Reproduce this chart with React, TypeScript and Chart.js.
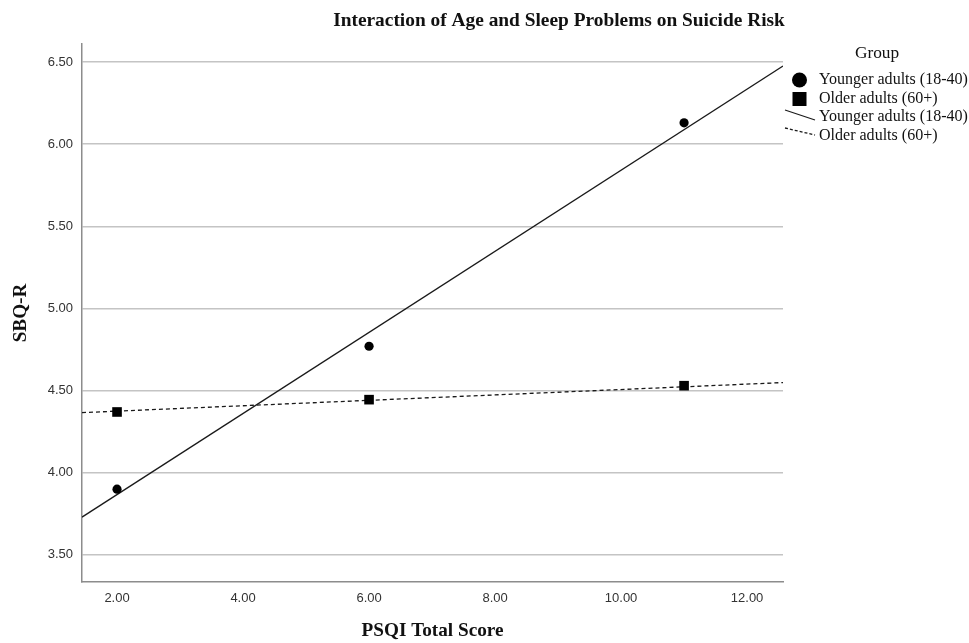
import React, { useEffect, useRef } from "react";
import { Chart, registerables } from "chart.js";

Chart.register(...registerables);

// ---- data ----
const chartTitle = "Interaction of Age and Sleep Problems on Suicide Risk";
const xAxisTitle = "PSQI Total Score";
const yAxisTitle = "SBQ-R";
const legendTitle = "Group";
const groupLabels = ["Younger adults (18-40)", "Older adults (60+)"];

const psqiPoints = [2, 6, 11];
const sbqYounger = [3.9, 4.77, 6.13];
const sbqOlder = [4.37, 4.445, 4.53];

const fitX = [1.444, 12.57];
const fitYounger = [3.73, 6.476];
const fitOlder = [4.366, 4.549];

const xTicks = [2, 4, 6, 8, 10, 12];
const yTicks = [3.5, 4.0, 4.5, 5.0, 5.5, 6.0, 6.5];
const xRange = [1.444, 12.57];
const yRange = [3.335, 6.61];

const INK = "#1a1a1a";
const SERIF = "'Liberation Serif', 'Times New Roman', serif";

function fitSize(text: string, weight: string, target: number): number {
  const c = document.createElement("canvas");
  const ctx = c.getContext("2d")!;
  ctx.font = `${weight} 20px ${SERIF}`;
  const w = ctx.measureText(text).width;
  return w > 0 ? (20 * target) / w : 16;
}

export default function App() {
  const ref = useRef<HTMLCanvasElement | null>(null);

  useEffect(() => {
    if (!ref.current) return;
    const titleSize = fitSize(chartTitle, "bold", 452);
    const axisTitleSize = fitSize(xAxisTitle, "bold", 142);
    const legendSize = fitSize(groupLabels[0], "normal", 149);

    const titlePlugin = {
      id: "topTitle",
      afterDraw(chart: any) {
        const ctx = chart.ctx;
        ctx.save();
        ctx.fillStyle = "#111";
        ctx.font = `bold ${titleSize}px ${SERIF}`;
        ctx.textAlign = "center";
        ctx.textBaseline = "middle";
        ctx.fillText(chartTitle, 559, 21);
        ctx.restore();
      },
    };

    const legendPlugin = {
      id: "groupLegend",
      afterDraw(chart: any) {
        const ctx = chart.ctx;
        const ds = chart.data.datasets;
        ctx.save();
        ctx.fillStyle = "#111";
        ctx.font = `${legendSize * 1.08}px ${SERIF}`;
        ctx.textAlign = "center";
        ctx.textBaseline = "middle";
        ctx.fillText(legendTitle, 877, 53);

        ctx.textAlign = "left";
        ctx.font = `${legendSize}px ${SERIF}`;
        const textX = 819;
        const rows = [80, 99, 117, 136];
        ctx.fillStyle = "#000";
        ctx.beginPath();
        ctx.arc(799.5, rows[0], 7.5, 0, Math.PI * 2);
        ctx.fill();
        ctx.fillStyle = "#111";
        ctx.fillText(ds[0].label, textX, rows[0]);
        ctx.fillStyle = "#000";
        ctx.fillRect(792.5, rows[1] - 7, 14, 14);
        ctx.fillStyle = "#111";
        ctx.fillText(ds[1].label, textX, rows[1]);
        ctx.strokeStyle = INK;
        ctx.lineWidth = 1.3;
        ctx.beginPath();
        ctx.moveTo(785, rows[2] - 7);
        ctx.lineTo(815, rows[2] + 3);
        ctx.stroke();
        ctx.fillText(ds[2].label, textX, rows[2]);
        ctx.setLineDash([3, 2]);
        ctx.beginPath();
        ctx.moveTo(785, rows[3] - 8);
        ctx.lineTo(815, rows[3] - 1);
        ctx.stroke();
        ctx.setLineDash([]);
        ctx.fillText(ds[3].label, textX, rows[3]);
        ctx.restore();
      },
    };

    const chart = new Chart(ref.current, {
      type: "scatter",
      data: {
        datasets: [
          {
            label: groupLabels[0],
            data: psqiPoints.map((x, i) => ({ x, y: sbqYounger[i] })),
            pointStyle: "circle",
            pointRadius: 4.6,
            pointHoverRadius: 4.6,
            backgroundColor: "#000",
            borderColor: "#000",
            borderWidth: 0,
            showLine: false,
          },
          {
            label: groupLabels[1],
            data: psqiPoints.map((x, i) => ({ x, y: sbqOlder[i] })),
            pointStyle: "rect",
            pointRadius: 6.8,
            pointHoverRadius: 6.8,
            backgroundColor: "#000",
            borderColor: "#000",
            borderWidth: 0,
            showLine: false,
          },
          {
            label: groupLabels[0],
            data: fitX.map((x, i) => ({ x, y: fitYounger[i] })),
            showLine: true,
            pointRadius: 0,
            borderColor: INK,
            borderWidth: 1.3,
            fill: false,
          },
          {
            label: groupLabels[1],
            data: fitX.map((x, i) => ({ x, y: fitOlder[i] })),
            showLine: true,
            pointRadius: 0,
            borderColor: INK,
            borderWidth: 1.3,
            borderDash: [4, 3],
            fill: false,
          },
        ],
      },
      options: {
        responsive: false,
        animation: false,
        devicePixelRatio: 1,
        layout: { padding: { left: 0, top: 44, right: 969 - 783, bottom: 0 } },
        plugins: {
          legend: { display: false },
          title: { display: false },
          tooltip: { enabled: false },
        },
        scales: {
          x: {
            type: "linear",
            min: xRange[0],
            max: xRange[1],
            afterBuildTicks: (s: any) => {
              s.ticks = xTicks.map((v) => ({ value: v }));
            },
            afterFit: (s: any) => {
              s.height = 643 - 582;
            },
            grid: { display: false, drawTicks: false },
            border: { display: true, color: "#8c8c8c", width: 1.5 },
            ticks: {
              padding: 9,
              color: "#333",
              font: { family: "'Liberation Sans', Arial, sans-serif", size: 13 },
              callback: (v: any) => Number(v).toFixed(2),
            },
            title: {
              display: true,
              text: xAxisTitle,
              color: "#111",
              font: { family: SERIF, size: axisTitleSize, weight: "bold" },
              padding: { top: 0, bottom: 0 },
            },
          },
          y: {
            type: "linear",
            min: yRange[0],
            max: yRange[1],
            afterBuildTicks: (s: any) => {
              s.ticks = yTicks.map((v) => ({ value: v }));
            },
            afterFit: (s: any) => {
              s.width = 82;
            },
            grid: { display: true, drawTicks: false, color: "#c4c4c4", lineWidth: 1.5 },
            border: { display: true, color: "#8c8c8c", width: 1.5 },
            ticks: {
              padding: 9,
              color: "#333",
              font: { family: "'Liberation Sans', Arial, sans-serif", size: 13 },
              callback: (v: any) => Number(v).toFixed(2),
            },
            title: {
              display: true,
              text: yAxisTitle,
              color: "#111",
              font: { family: SERIF, size: axisTitleSize, weight: "bold" },
              padding: { top: 10, bottom: 0 },
            },
          },
        },
      },
      plugins: [titlePlugin, legendPlugin],
    });
    return () => chart.destroy();
  }, []);

  return (
    <div style={{ position: "absolute", left: 0, top: 0, width: 969, height: 643, background: "#fff" }}>
      <canvas ref={ref} width={969} height={643} style={{ display: "block" }} />
    </div>
  );
}
